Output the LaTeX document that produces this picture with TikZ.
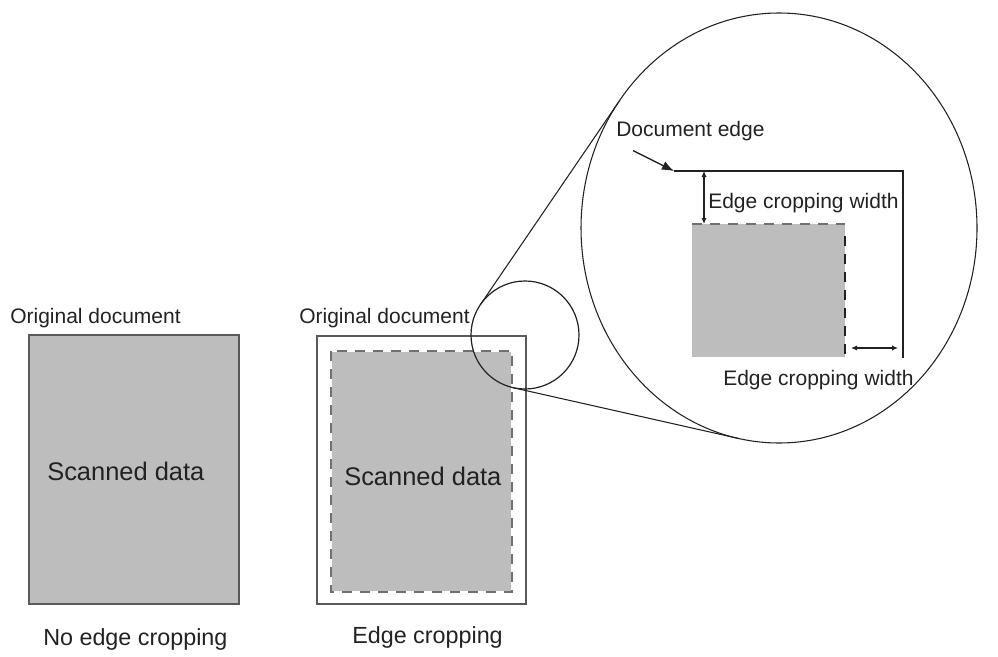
\documentclass[tikz,border=0pt]{standalone}
\usepackage{fontspec}
\setmainfont{Liberation Sans}
\usetikzlibrary{arrows.meta, positioning}
\definecolor{ScanGray}{HTML}{BDBDBD}
\definecolor{EdgeGray}{HTML}{5A5A5A}
\definecolor{DashGray}{HTML}{707070}
\definecolor{InkBlack}{HTML}{222222}

\begin{document}
\begin{tikzpicture}[x=0.75pt, y=-0.75pt,
    lbl/.style={anchor=base west, inner sep=0pt, text=InkBlack, font=\fontsize{15.75}{18}\selectfont},
    scanlbl/.style={lbl, font=\fontsize{19.1}{22}\selectfont},
    caplbl/.style={lbl, font=\fontsize{17.5}{20}\selectfont},
    cropline/.style={DashGray, line width=1.4pt, dash pattern=on 7.5pt off 6pt},
    dimarrow/.style={InkBlack, line width=0.9pt, {Latex[length=4.5pt,width=4pt]}-{Latex[length=4.5pt,width=4pt]}}]
    \useasboundingbox (0,0) rectangle (998,656);

    % No edge cropping
    \draw[EdgeGray, line width=1.1pt, fill=ScanGray] (29,335) rectangle (239,604);
    \node[lbl] (orig1) at (10,323) {Original document};
    \node[scanlbl] (scan1) at (47,480) {Scanned data};
    \node[caplbl] (cap1) at (43,645) {No edge cropping};

    % Edge cropping
    \draw[EdgeGray, line width=0.9pt] (317,336) rectangle (526,604);
    \fill[ScanGray] (332,352) rectangle (511,591);
    \draw[cropline] (331,351) rectangle (512,592);
    \node[lbl] (orig2) at (299,323) {Original document};
    \node[scanlbl] (scan2) at (344,485) {Scanned data};
    \node[caplbl] (cap2) at (352,643) {Edge cropping};

    % Zoom circles and their tangents
    \coordinate (zsmall) at (525,335);
    \coordinate (zbig) at (779,228);
    \draw[InkBlack, line width=0.8pt] (480.4,304.6) -- (620,100);
    \draw[InkBlack, line width=0.8pt] (513.1,387.7) -- (738.7,438.5);
    \draw[InkBlack, line width=0.9pt] (zsmall) circle[radius=54];
    \draw[InkBlack, line width=0.8pt] (zbig) ellipse[x radius=198, y radius=215];

    % Detail inside the big circle
    \fill[ScanGray] (692,224) rectangle (845,357);
    \draw[cropline] (692,224) -- (845,224);
    \draw[InkBlack, line width=1.1pt, dash pattern=on 7.5pt off 6pt] (845,236) -- (845,357);
    \coordinate (edgecorner) at (674,171);
    \draw[InkBlack, line width=1.7pt] (edgecorner) -- (903,171) -- (903,358);
    \node[lbl] (docedge) at (616,137) {Document edge};
    \draw[InkBlack, line width=1pt, -{Latex[length=9pt,width=7pt]}]
        ([shift={(17,9)}]docedge.south west) -- (edgecorner);

    \draw[dimarrow] (704,171) -- (704,224);
    \node[lbl] (cropw1) at (708,208) {Edge cropping width};
    \draw[dimarrow] (851,348) -- (898,348);
    \node[lbl] (cropw2) at (723,385) {Edge cropping width};
\end{tikzpicture}
\end{document}
